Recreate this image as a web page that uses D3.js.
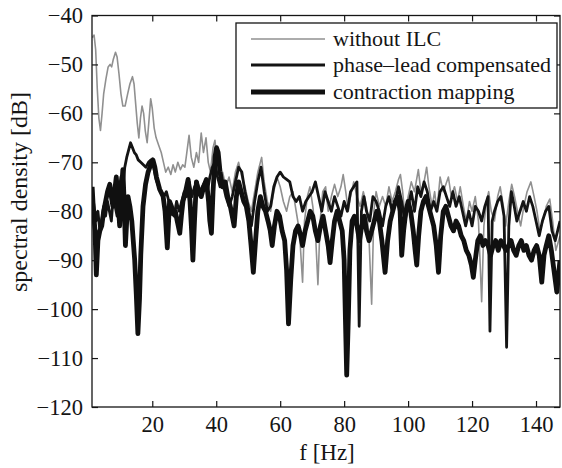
<!DOCTYPE html>
<html><head><meta charset="utf-8">
<script src="https://cdn.jsdelivr.net/npm/d3@7"></script>
<style>html,body{margin:0;padding:0;background:#fff;}svg{display:block;}</style>
</head><body>
<svg id="c" width="562" height="468"></svg>
<script>
const xTicks = [20,40,60,80,100,120,140];
const yTicks = [-40,-50,-60,-70,-80,-90,-100,-110,-120];
const seriesNames = ["without ILC","phase\u2013lead compensated","contraction mapping"];

const fGray = [1.2,1.8,2.3,2.8,3.3,3.8,4.3,4.8,5.5,6.2,6.8,7.3,7.8,8.5,9.0,9.6,10.2,10.8,11.5,12.3,13.0,13.8,14.3,14.8,15.3,15.8,16.3,16.8,17.3,17.8,18.4,18.9,19.5,20.0,20.6,21.2,22.0,22.8,23.5,24.2,25.0,25.8,26.5,27.2,28.0,28.8,29.5,30.2,30.8,31.5,32.2,33.0,33.8,34.5,35.3,36.0,36.8,37.5,38.2,39.0,39.6,40.3,41.0,42.0,43.0,44.0,45.0,46.0,47.0,48.0,49.0,50.0,51.0,52.0,53.0,54.2,55.0,56.0,57.0,58.0,59.0,60.0,61.0,62.0,63.0,64.0,65.0,66.0,67.0,67.6,68.5,69.3,70.2,71.0,71.8,72.5,73.3,74.2,75.0,76.0,77.0,78.0,79.0,79.7,80.5,81.3,82.0,83.0,84.0,85.0,86.0,87.0,87.8,88.6,89.3,90.0,91.0,92.0,93.0,94.0,95.0,96.0,97.0,97.6,98.3,99.0,100.0,101.0,102.0,103.2,104.0,105.0,105.8,106.5,107.5,108.3,109.0,110.0,111.0,112.6,113.5,114.5,115.5,116.3,117.3,118.2,119.2,120.0,121.0,122.0,123.0,123.7,124.5,125.2,126.0,127.0,128.0,128.8,129.8,130.5,131.5,132.4,133.3,134.2,135.2,136.2,137.2,138.4,139.4,140.3,141.2,142.2,143.2,144.3,145.2,146.2,147.5];
const gray = [-44.5,-44,-47,-55,-61,-63.5,-60,-56,-53,-50.5,-50,-50.5,-49,-47.5,-48.5,-52,-56,-58.5,-58.5,-56,-54,-52.5,-54,-58,-62,-65,-61,-58.5,-60,-63.5,-66,-62,-57,-59,-63,-65,-66.5,-68,-70,-72,-71,-72.5,-70.5,-72,-70,-71.5,-70.5,-71,-68,-64.5,-69,-71,-68,-70,-64,-68,-65,-70,-72,-67,-65.5,-70,-73,-72,-75,-73,-76,-72,-70,-73,-75,-78,-80,-76,-72,-69,-74,-78,-80,-76,-73,-75,-78,-80,-77,-76,-80,-84,-94.5,-82,-77,-75,-79,-84,-95,-82,-76,-75,-80,-77,-74.5,-77,-75,-72.5,-76,-80,-77,-74,-77,-79,-76,-79,-86,-99,-80,-76,-79,-77,-79,-75,-78,-76,-73.5,-72.5,-76,-81,-77,-74,-76,-71.5,-76,-74,-71,-75,-79,-76,-80,-73,-76,-73,-77,-75,-78,-75,-79,-82,-78,-80,-77,-82,-98.5,-83,-78,-76,-80,-82,-77,-75,-79,-83,-78,-74.5,-77,-80,-83,-79,-76,-74,-77,-80,-84,-82,-79,-77.5,-82,-88,-85];

const fLead = [1.2,1.8,2.4,3.0,3.6,4.2,4.8,5.4,6.0,6.6,7.2,7.8,8.4,9.0,9.6,10.2,10.8,11.4,12.0,12.6,13.2,13.8,14.4,15.0,15.6,16.4,17.2,18.0,18.8,19.6,20.4,21.2,22.0,22.8,23.6,24.4,25.2,26.0,26.8,27.6,28.4,29.2,30.0,30.8,31.6,32.4,33.2,34.0,34.8,35.6,36.4,37.2,38.0,38.8,39.6,40.4,41.2,42.0,43.0,44.0,45.0,46.0,47.0,48.0,49.0,50.0,51.0,52.0,53.0,54.0,55.0,56.0,57.0,58.0,59.0,60.0,61.0,62.0,63.0,64.0,65.0,66.0,67.0,68.0,69.0,70.0,71.0,72.0,73.0,74.0,75.0,76.0,77.0,78.0,79.0,80.0,81.0,82.0,83.0,84.0,84.7,85.4,86.2,87.0,88.0,89.0,90.0,91.0,92.0,93.0,94.0,95.0,96.0,97.0,98.0,99.0,100.0,101.0,102.0,103.0,104.0,105.0,106.0,107.0,108.0,109.0,110.0,111.0,112.0,113.0,114.0,115.0,116.0,117.0,118.0,119.0,120.0,121.0,122.0,123.0,124.0,125.0,125.6,126.3,127.0,128.0,129.0,130.0,130.8,131.5,132.3,133.2,134.0,135.0,136.0,137.0,138.0,139.0,140.0,141.0,142.0,143.0,144.0,145.0,146.0,147.5];
const lead = [-76,-79,-82,-80,-84,-82,-79,-81,-78,-80,-82,-77,-79,-81,-76,-73,-75,-71,-69,-67.5,-66,-67,-68,-68.5,-69.5,-70,-70.5,-71,-70,-69.5,-71,-73.5,-75,-76,-77,-76,-78,-79,-81,-78,-80,-78,-76,-77,-74,-77,-75,-74,-76,-75,-74,-76,-73,-71,-70,-73,-75,-74,-77,-79,-77,-74,-71,-72,-76,-79,-83,-78,-74,-71,-76,-80,-79,-75,-73,-72,-73,-73.5,-74,-77,-78,-77,-80,-78,-77,-76,-74,-77,-80,-76,-78,-80,-77,-79,-81,-78,-80,-76,-75,-74,-103.5,-80,-77,-80,-82,-77,-78,-80,-83,-79,-77,-80,-78,-75,-78,-82,-79,-76,-80,-75,-77,-74,-76,-80,-78,-80,-76,-75,-77,-79,-76,-79,-77,-80,-83,-80,-83,-79,-80,-82,-79,-77,-104.5,-82,-80,-78,-77,-81,-107.8,-83,-76,-79,-82,-80,-78,-80,-77,-79,-82,-85,-82,-80,-79,-84,-86,-82];

const fCm = [1.2,1.6,2.1,2.5,3.0,3.6,4.2,4.8,5.4,6.0,6.7,7.2,7.7,8.2,8.75,9.3,9.8,10.3,10.8,11.2,11.6,12.0,12.4,13.0,13.6,14.5,15.0,15.5,16.0,16.4,17.1,17.9,18.7,19.5,20.2,20.8,21.3,22.3,23.4,24.0,24.7,25.4,26.0,26.5,27.2,27.8,28.6,29.1,29.6,30.4,31.2,31.8,32.3,32.7,33.2,33.8,34.5,35.3,36.1,36.9,37.6,38.0,38.5,39.0,39.6,40.1,40.6,41.2,42.0,42.8,43.6,44.4,45.0,45.6,46.3,47.0,47.8,48.6,49.4,50.2,50.9,51.6,52.3,53.0,53.8,54.6,55.4,56.2,56.9,57.5,58.2,59.0,59.8,60.6,61.4,62.0,62.6,63.3,64.0,64.8,65.6,66.4,67.0,67.8,68.6,69.4,70.2,71.0,71.8,72.6,73.4,74.2,75.0,75.6,76.3,77.0,77.8,78.6,79.4,80.0,80.4,80.8,81.3,81.8,82.5,83.2,84.0,84.8,85.5,86.3,87.0,87.8,88.6,89.4,90.2,91.0,91.8,92.8,93.6,94.4,95.2,96.0,96.8,97.5,98.0,98.6,99.3,100.0,100.8,101.6,102.2,102.7,103.3,104.0,104.8,105.6,106.4,107.2,108.0,108.8,109.5,110.2,111.0,111.8,112.6,113.4,114.2,115.0,115.8,116.6,117.4,118.2,119.0,119.8,120.4,121.0,121.8,122.6,123.4,124.2,125.0,125.8,126.6,127.4,128.2,129.0,129.8,130.6,131.4,132.2,133.0,133.8,134.6,135.4,136.2,137.0,137.8,138.6,139.4,140.2,141.0,141.8,142.5,143.2,144.0,144.8,145.6,146.5,147.5];
const cm = [-75,-80,-84,-93,-86,-84,-83,-80,-78,-76,-74.5,-77,-79,-76,-73,-78,-83,-76,-71.5,-78,-87,-82,-77,-79,-82,-90,-97,-105,-98,-89,-79,-74.5,-72,-70.5,-69.5,-71,-73,-75.5,-77,-80,-87.5,-78,-79,-80.5,-80,-82,-84.5,-81,-78,-76,-73.5,-78,-84,-90,-82,-74,-76,-77,-75,-73.5,-78,-82,-84.5,-76,-69,-67,-68,-72,-75,-74,-77,-79,-81,-83,-77,-74,-76,-78,-79,-82,-87,-92.5,-86,-80,-77,-79,-80,-82,-84,-87,-83,-80,-81,-84,-86,-92,-103,-94,-87,-84,-83,-85,-87,-84,-82,-80,-81,-84,-86,-83,-81,-84,-87,-90.5,-86,-82,-80,-82,-84,-90,-102,-113.5,-102,-88,-82,-81,-83,-86,-83,-81,-84,-86,-84,-82,-80,-82,-86,-92.5,-86,-82,-80,-78,-77,-80,-89,-84,-80,-78,-80,-84,-88,-91,-85,-80,-78,-77,-79,-81,-83,-87,-92.5,-85,-80,-79,-81,-83,-84,-82,-83,-85,-86,-88,-89,-91,-93.5,-90,-86,-85,-87,-86,-87,-89,-87,-86,-88,-86,-87,-88,-87,-86,-88,-89,-87,-86,-88,-87,-89,-90,-88,-87,-89,-94.5,-89,-87,-85,-88,-92,-96.5,-90];

const svg = d3.select("#c");
const L = 92, R = 560, T = 15.5, B = 407;
const x = d3.scaleLinear().domain([1.15, 147.5]).range([L, R]);
const y = d3.scaleLinear().domain([-120, -40]).range([B, T]);
const font = "'Liberation Serif','Times New Roman',serif";
const ink = "#151515";

svg.append("clipPath").attr("id","pc").append("rect")
  .attr("x", L).attr("y", T).attr("width", R-L).attr("height", B-T);

const line = d3.line().x(d=>x(d[0])).y(d=>y(d[1]));
const styles = [
  {f:fGray, v:gray, color:"#909090", w:1.6},
  {f:fLead, v:lead, color:"#141414", w:2.8},
  {f:fCm, v:cm, color:"#101010", w:4.8}
];
const g = svg.append("g").attr("clip-path","url(#pc)");
styles.forEach(s => {
  g.append("path").datum(s.f.map((f,i)=>[f,s.v[i]]))
    .attr("d", line).attr("fill","none").attr("stroke", s.color)
    .attr("stroke-width", s.w).attr("stroke-linejoin","round");
});

// axes (ticks inward, MATLAB box)
const axB = d3.axisBottom(x).tickValues(xTicks).tickSize(-6).tickPadding(9).tickFormat(d3.format("d"));
const axT = d3.axisTop(x).tickValues(xTicks).tickSize(-6).tickFormat("");
const axL = d3.axisLeft(y).tickValues(yTicks).tickSize(-6).tickPadding(9).tickFormat(d=>"\u2212"+Math.abs(d));
const axR = d3.axisRight(y).tickValues(yTicks).tickSize(-6).tickFormat("");
const styleAx = sel => {
  sel.selectAll("path,line").attr("stroke", ink).attr("stroke-width",1.2);
  sel.selectAll("text").attr("fill", ink).style("font-family", font).style("font-size","22.5px");
  sel.select(".domain").attr("d", null);
};
svg.append("g").attr("transform",`translate(0,${B})`).call(axB).call(styleAx);
svg.append("g").attr("transform",`translate(0,${T})`).call(axT).call(styleAx);
svg.append("g").attr("transform",`translate(${L},0)`).call(axL).call(styleAx);
svg.append("g").attr("transform",`translate(${R},0)`).call(axR).call(styleAx);
svg.append("rect").attr("x",L).attr("y",T).attr("width",R-L).attr("height",B-T)
  .attr("fill","none").attr("stroke",ink).attr("stroke-width",1.3);

// labels
svg.append("text").attr("x",327).attr("y",460).attr("text-anchor","middle")
  .style("font-family",font).style("font-size","23px").attr("fill",ink).text("f [Hz]");
svg.append("text").attr("transform","translate(27,192) rotate(-90)").attr("text-anchor","middle")
  .style("font-family",font).style("font-size","24px").attr("fill",ink).text("spectral density [dB]");

// legend
const lg = svg.append("g");
lg.append("rect").attr("x",236).attr("y",23).attr("width",321).attr("height",85)
  .attr("fill","#fff").attr("stroke",ink).attr("stroke-width",1.3);
const ly = [39,65,92];
styles.forEach((s,i)=>{
  lg.append("line").attr("x1",251).attr("x2",325).attr("y1",ly[i]).attr("y2",ly[i])
    .attr("stroke",s.color).attr("stroke-width",s.w);
  lg.append("text").attr("x",333).attr("y",ly[i]+7).style("font-family",font)
    .style("font-size","22px").attr("fill",ink).text(seriesNames[i]);
});
</script>
</body></html>
